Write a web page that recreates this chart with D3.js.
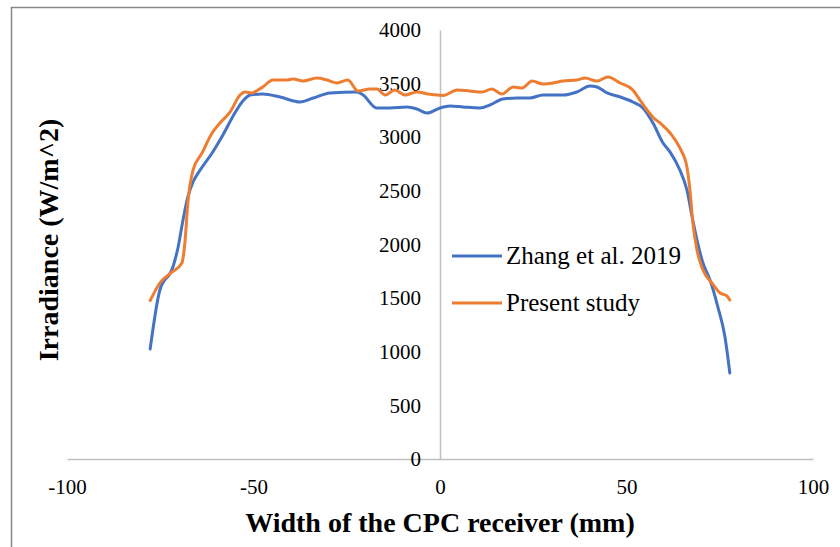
<!DOCTYPE html>
<html>
<head>
<meta charset="utf-8">
<script src="https://cdn.jsdelivr.net/npm/d3@7"></script>
<style>
  body { margin: 0; background: #fff; }
  text { font-family: "Liberation Serif", "Times New Roman", serif; }
</style>
</head>
<body>
<div id="chart-area"></div>
<script>
// SVG Size
let width = 840,
	height = 547;

// data
let zhangX = [-77.7, -75.1, -71.6, -70.2, -68.9, -67.6, -66.2, -64.3, -61.1, -58.2, -55.0, -52.8, -50.9,
	-47.5, -42.9, -37.5, -34.0, -29.5, -22.3, -20.6, -17.0, -13.4, -8.8, -6.2, -3.5, 0, 2.7, 6.2, 10.7,
	13.4, 16.9, 20.6, 24.1, 27.6, 33.0, 36.7, 40.2, 42.1, 44.8, 48.3, 51.7, 54.4, 57.1, 59.8, 61.7, 64.3,
	66.2, 67.6, 68.9, 70.5, 72.4, 74.5, 76.4, 77.7];
let zhangY = [1026, 1576, 1790, 1977, 2228, 2443, 2583, 2695, 2853, 3021, 3226, 3340, 3394,
	3403, 3375, 3329, 3366, 3413, 3422, 3394, 3273, 3273, 3282, 3263, 3226, 3273, 3291, 3282, 3273,
	3301, 3357, 3366, 3366, 3394, 3394, 3422, 3478, 3469, 3413, 3375, 3329, 3273, 3133, 2946, 2862, 2695,
	2508, 2256, 2042, 1827, 1669, 1417, 1138, 802];

let presentX = [-77.7, -75.1, -71.8, -69.2, -68.4, -67.6, -66.2, -63.8, -61.1, -59.0, -56.3, -53.6, -52.3,
	-50.4, -48.8, -47.5, -44.8, -41.0, -39.4, -36.7, -33.0, -30.3, -27.6, -24.7, -22.0, -18.8, -16.9, -14.7,
	-12.1, -9.4, -6.2, -2.7, 0.8, 4.6, 8.0, 11.3, 13.9, 16.6, 19.6, 22.0, 24.7, 27.6, 30.3, 33.0, 36.7,
	38.9, 42.1, 45.0, 48.3, 51.7, 53.6, 55.5, 57.3, 59.0, 61.7, 64.3, 66.2, 67.0, 67.8, 68.9, 70.5, 72.9,
	75.1, 76.9, 77.7];
let presentY = [1478, 1641, 1744, 1827, 2014, 2387, 2695, 2853, 3040, 3133, 3235, 3394, 3422,
	3413, 3441, 3469, 3534, 3534, 3543, 3524, 3552, 3534, 3506, 3534, 3431, 3450, 3450, 3394,
	3441, 3394, 3422, 3400, 3390, 3441, 3431, 3422, 3450, 3403, 3469, 3459, 3524, 3497, 3506, 3524, 3534,
	3552, 3524, 3562, 3506, 3441, 3347, 3254, 3180, 3133, 3040, 2900, 2723, 2508, 2200, 1949, 1762, 1641,
	1548, 1520, 1482];

let seriesNames = ["Zhang et al. 2019", "Present study"];
let xTicks = [-100, -50, 0, 50, 100];
let yTicks = [0, 500, 1000, 1500, 2000, 2500, 3000, 3500, 4000];

let series = [
	{ name: seriesNames[0], color: "#4472C4", values: zhangX.map((x, i) => ({ x: x, y: zhangY[i] })) },
	{ name: seriesNames[1], color: "#ED7D31", values: presentX.map((x, i) => ({ x: x, y: presentY[i] })) }
];

drawChart(series);

function drawChart(series) {
	let svg = d3.select("#chart-area")
		.append("svg")
		.attr("width", width)
		.attr("height", height);

	// outer frame (runs off the right and bottom edge)
	svg.append("rect")
		.attr("x", 11.5)
		.attr("y", 7.5)
		.attr("width", 900)
		.attr("height", 600)
		.attr("fill", "none")
		.attr("stroke", "#868686")
		.attr("stroke-width", 1.5);

	let x = d3.scaleLinear()
		.domain([-100, 100])
		.range([67, 813]);

	let y = d3.scaleLinear()
		.domain([0, 4000])
		.range([459, 30]);

	// plain labels, hyphen minus, no thousands separator
	let plain = d => String(d);

	// x axis, crossing at y = 0
	let xAxis = d3.axisBottom(x).tickValues(xTicks).tickFormat(plain).tickSize(0).tickPadding(0);
	let gx = svg.append("g")
		.attr("transform", "translate(0," + y(0) + ")")
		.call(xAxis);
	gx.select(".domain").attr("stroke", "#bfbfbf").attr("stroke-width", 1.5);
	gx.selectAll("text")
		.attr("y", 35)
		.attr("dy", null)
		.attr("font-size", 21)
		.attr("font-family", "Liberation Serif")
		.attr("fill", "#000");

	// y axis, crossing at x = 0
	let yAxis = d3.axisLeft(y).tickValues(yTicks).tickFormat(plain).tickSize(0).tickPadding(19);
	let gy = svg.append("g")
		.attr("transform", "translate(" + x(0) + ",0)")
		.call(yAxis);
	gy.select(".domain").attr("stroke", "#bfbfbf").attr("stroke-width", 1.5);
	gy.selectAll("text")
		.attr("font-size", 21)
		.attr("font-family", "Liberation Serif")
		.attr("fill", "#000");

	let line = d3.line()
		.x(d => x(d.x))
		.y(d => y(d.y))
		.curve(d3.curveMonotoneX);

	svg.selectAll(".series")
		.data(series)
		.enter()
		.append("path")
		.attr("class", "series")
		.attr("d", d => line(d.values))
		.attr("fill", "none")
		.attr("stroke", d => d.color)
		.attr("stroke-width", 3)
		.attr("stroke-linejoin", "round")
		.attr("stroke-linecap", "round");

	// legend
	let legend = svg.selectAll(".legend")
		.data(series)
		.enter()
		.append("g")
		.attr("class", "legend")
		.attr("transform", (d, i) => "translate(452," + (256 + i * 47) + ")");

	legend.append("line")
		.attr("x1", 0)
		.attr("x2", 50)
		.attr("stroke", d => d.color)
		.attr("stroke-width", 3);

	legend.append("text")
		.attr("x", 54)
		.attr("dy", "0.33em")
		.attr("font-size", 25)
		.text(d => d.name);

	// axis titles
	svg.append("text")
		.attr("x", 440)
		.attr("y", 532)
		.attr("text-anchor", "middle")
		.attr("font-size", 28)
		.attr("font-weight", "bold")
		.text("Width of the CPC receiver (mm)");

	svg.append("text")
		.attr("transform", "translate(58,240) rotate(-90)")
		.attr("text-anchor", "middle")
		.attr("font-size", 28)
		.attr("font-weight", "bold")
		.text("Irradiance (W/m^2)");
}
</script>
</body>
</html>
